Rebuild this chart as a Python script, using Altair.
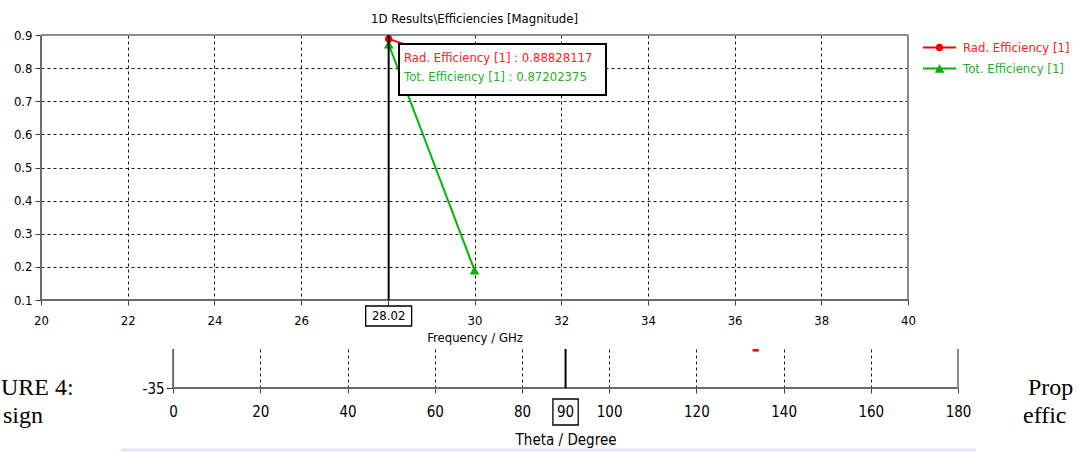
import altair as alt
import pandas as pd

# ---------------- data ----------------
freq_ghz = [28.02, 30.0]
rad_efficiency = [0.88828117, 0.80]
tot_efficiency = [0.87202375, 0.19]
series_names = ["Rad. Efficiency [1]", "Tot. Efficiency [1]"]
series_colors = ["#ff0000", "#00b400"]
series_text_colors = ["#ff2020", "#1fb01f"]
series_shapes = ["circle", "triangle-up"]
series_sizes = [55, 95]
freq_ticks = [20, 22, 24, 26, 28, 30, 32, 34, 36, 38, 40]
eff_ticks = [0.1, 0.2, 0.3, 0.4, 0.5, 0.6, 0.7, 0.8, 0.9]
marker_freq = [28.02]
marker_readout = [0.88828117, 0.87202375]
chart_title = "1D Results\\Efficiencies [Magnitude]"
freq_title = "Frequency / GHz"

theta_ticks = [0, 20, 40, 60, 80, 100, 120, 140, 160, 180]
level_ticks = [-35]
level_top = -30.47
marker_theta = [90]
trace_theta = [132.9, 134.3]
trace_level = [-30.6, -30.6]
theta_title = "Theta / Degree"
caption_left = ["URE 4:", "sign"]
caption_right = ["Prop", "effic"]

# ---------------- styling ----------------
F = "DejaVu Sans"
FS = 11.7
N = "Liberation Sans Narrow, DejaVu Sans Condensed, Liberation Sans"
NS = 15
SERIF = "Liberation Serif"
AXIS_DARK = "#6a6a6a"
FRAME = "#8c8c8c"
GRID = dict(grid=True, gridColor="#000000", gridDash=[3, 3], gridWidth=1, gridOpacity=0.9)

one = pd.DataFrame({"k": [0]})

# ---------------- top chart ----------------
W1, H1 = 867, 265
eff_df = pd.DataFrame({
    "freq": freq_ghz * 2,
    "eff": rad_efficiency + tot_efficiency,
    "series": [series_names[0]] * len(freq_ghz) + [series_names[1]] * len(freq_ghz),
})
xs = alt.Scale(domain=[freq_ticks[0], freq_ticks[-1]], nice=False, zero=False)
ys = alt.Scale(domain=[eff_ticks[0], eff_ticks[-1]], nice=False, zero=False)

x_axis = alt.Axis(values=freq_ticks, tickCount=40, format="d", domain=False, tickColor="#404040", tickSize=5,
                  labelFont=F, labelFontSize=FS, labelColor="black", labelPadding=10,
                  labelExpr=f"datum.value == {freq_ticks[4]} ? '' : datum.label",
                  labelFlush=False, labelOverlap=False, title=freq_title, titleFont=F,
                  titleFontSize=FS, titleFontWeight="normal", titleColor="black",
                  titlePadding=6, **GRID)
y_axis = alt.Axis(values=eff_ticks, tickCount=40, format=".1f", domain=False, tickColor="#404040", tickSize=6,
                  labelFont=F, labelFontSize=FS, labelColor="black", labelPadding=3,
                  labelFlush=False, labelOverlap=False, **GRID)

enc_x = alt.X("freq:Q", scale=xs, axis=x_axis)
enc_y = alt.Y("eff:Q", scale=ys, axis=y_axis, title=None)
color = alt.Color("series:N", scale=alt.Scale(domain=series_names, range=series_colors), legend=None)

frame_top = alt.Chart(one).mark_rule(color=FRAME, strokeWidth=2).encode(y=alt.datum(eff_ticks[-1]))
frame_right = alt.Chart(one).mark_rule(color=FRAME, strokeWidth=2).encode(x=alt.datum(freq_ticks[-1]))
frame_left = alt.Chart(one).mark_rule(color=AXIS_DARK, strokeWidth=2).encode(x=alt.datum(freq_ticks[0]))
frame_bottom = alt.Chart(one).mark_rule(color=AXIS_DARK, strokeWidth=2).encode(y=alt.datum(eff_ticks[0]))

lines = alt.Chart(eff_df).mark_line(strokeWidth=2).encode(x=enc_x, y=enc_y, color=color)
points = alt.Chart(eff_df).mark_point(filled=True, opacity=1).encode(
    x=enc_x, y=enc_y, color=color,
    shape=alt.Shape("series:N", scale=alt.Scale(domain=series_names, range=series_shapes), legend=None),
    size=alt.Size("series:N", scale=alt.Scale(domain=series_names, range=series_sizes), legend=None),
)

cursor_df = pd.DataFrame({"freq": marker_freq})
cursor_df["lo"] = cursor_df["freq"] - 0.53
cursor_df["hi"] = cursor_df["freq"] + 0.53
cursor_df["label"] = [f"{v:.2f}" for v in marker_freq]
cursor = alt.Chart(cursor_df).mark_rule(color="black", strokeWidth=2).encode(x=enc_x)
cursor_box = alt.Chart(cursor_df).mark_rect(fill="white", stroke="black", strokeWidth=1.3).encode(
    x=alt.X("lo:Q", scale=xs, axis=x_axis), x2="hi:Q", y=alt.value(H1 + 6), y2=alt.value(H1 + 26))
cursor_txt = alt.Chart(cursor_df).mark_text(font=F, fontSize=FS, color="black", baseline="middle").encode(
    x=enc_x, y=alt.value(H1 + 16), text="label:N")

readout_box = alt.Chart(one).mark_rect(fill="white", stroke="black", strokeWidth=2).encode(
    x=alt.value(358), x2=alt.value(565), y=alt.value(9), y2=alt.value(60))
readout_layers = []
for i, (nm, v) in enumerate(zip(series_names, marker_readout)):
    readout_layers.append(
        alt.Chart(one).mark_text(font=F, fontSize=FS, align="left", baseline="middle",
                                 color=series_text_colors[i], text=f"{nm} : {v:.8f}").encode(
            x=alt.value(363), y=alt.value(23 + 19 * i)))

legend_layers = []
for i, nm in enumerate(series_names):
    yy = 12.5 + 21 * i
    legend_layers.append(alt.Chart(one).mark_rule(color=series_colors[i], strokeWidth=2).encode(
        x=alt.value(882), x2=alt.value(915), y=alt.value(yy)))
    legend_layers.append(alt.Chart(one).mark_point(filled=True, opacity=1, color=series_colors[i],
                                                   shape=series_shapes[i], size=series_sizes[i]).encode(
        x=alt.value(898.5), y=alt.value(yy)))
    legend_layers.append(alt.Chart(one).mark_text(font=F, fontSize=FS, align="left", baseline="middle",
                                                  color=series_text_colors[i], text=nm).encode(
        x=alt.value(922), y=alt.value(yy)))

top = alt.layer(
    frame_top, frame_right, frame_left, frame_bottom,
    lines, points, cursor, cursor_box, cursor_txt, readout_box, *readout_layers, *legend_layers
).properties(
    width=W1, height=H1,
    title=alt.Title(chart_title, font=F, fontSize=FS, fontWeight="normal", color="black",
                    frame="group", anchor="middle", offset=4),
    view=alt.ViewBackground(stroke="transparent"),
)

# ---------------- bottom (partial) chart ----------------
W2, H2 = 917, 39
th_lo = -30.3
xs2 = alt.Scale(domain=[th_lo, theta_ticks[-1]], nice=False, zero=False)
ys2 = alt.Scale(domain=[level_ticks[0], level_top], nice=False, zero=False)
zero_px = (0 - th_lo) * W2 / (theta_ticks[-1] - th_lo)
mid_px = zero_px + (W2 - zero_px) / 2

x_axis2 = alt.Axis(values=theta_ticks, tickCount=40, format="d", domain=False, tickColor="#404040", tickSize=5,
                   labelFont=N, labelFontSize=NS, labelColor="black", labelPadding=11,
                   labelFlush=False, labelOverlap=False, title=theta_title, titleFont=N,
                   titleFontSize=NS, titleFontWeight="normal", titleColor="black",
                   titlePadding=13, titleX=mid_px, **GRID)
y_axis2 = alt.Axis(values=level_ticks, format="d", labelExpr="'' + datum.value", domain=False, grid=False,
                   offset=-zero_px, tickColor="#404040", tickSize=7, labelFont=N, labelFontSize=NS,
                   labelColor="black", labelPadding=2)

trace_df = pd.DataFrame({"theta": trace_theta, "level": trace_level})
ex2 = alt.X("theta:Q", scale=xs2, axis=x_axis2)
ey2 = alt.Y("level:Q", scale=ys2, axis=y_axis2, title=None)

trace = alt.Chart(trace_df).mark_line(color="#ff0000", strokeWidth=3, clip=True).encode(x=ex2, y=ey2)
axis_line = alt.Chart(one).mark_rule(color=AXIS_DARK, strokeWidth=2).encode(
    x=alt.datum(theta_ticks[0]), x2=alt.datum(theta_ticks[-1]), y=alt.datum(level_ticks[0]))
left_line = alt.Chart(one).mark_rule(color=AXIS_DARK, strokeWidth=2).encode(x=alt.datum(theta_ticks[0]))
right_line = alt.Chart(one).mark_rule(color=FRAME, strokeWidth=2).encode(x=alt.datum(theta_ticks[-1]))

th_df = pd.DataFrame({"theta": marker_theta})
th_df["lo"] = th_df["theta"] - 2.9
th_df["hi"] = th_df["theta"] + 2.9
th_df["label"] = [f"{v:d}" for v in marker_theta]
th_cursor = alt.Chart(th_df).mark_rule(color="black", strokeWidth=2).encode(x=ex2)
th_box = alt.Chart(th_df).mark_rect(fill="white", stroke="black", strokeWidth=1.3).encode(
    x=alt.X("lo:Q", scale=xs2, axis=x_axis2), x2="hi:Q", y=alt.value(H2 + 11), y2=alt.value(H2 + 37))
th_txt = alt.Chart(th_df).mark_text(font=N, fontSize=NS, color="black", baseline="middle").encode(
    x=ex2, y=alt.value(H2 + 24), text="label:N")

page_rule = alt.Chart(one).mark_rule(color="#dce6f4", strokeWidth=3).encode(
    x=alt.value(80), x2=alt.value(935), y=alt.value(101))

cap_layers = []
for i, t in enumerate(caption_left):
    cap_layers.append(alt.Chart(one).mark_text(font=SERIF, fontSize=24, align="left", baseline="alphabetic",
                                               color="black", text=t).encode(
        x=alt.value(-40 + 2 * i), y=alt.value(46 + 28 * i)))
for i, t in enumerate(caption_right):
    cap_layers.append(alt.Chart(one).mark_text(font=SERIF, fontSize=24, align="left", baseline="alphabetic",
                                               color="black", text=t).encode(
        x=alt.value(987 - 5 * i), y=alt.value(46 + 28 * i)))

bottom = alt.layer(
    page_rule, trace, axis_line, left_line, right_line, th_cursor, th_box, th_txt, *cap_layers
).properties(width=W2, height=H2, view=alt.ViewBackground(stroke="transparent"))

chart = alt.vconcat(top, bottom, spacing=2).properties(
    padding={"left": 0, "top": 13, "right": 0, "bottom": 0},
    background="white",
).configure_view(stroke="transparent")

chart.save("out.html", embed_options={"renderer": "svg", "actions": False})
